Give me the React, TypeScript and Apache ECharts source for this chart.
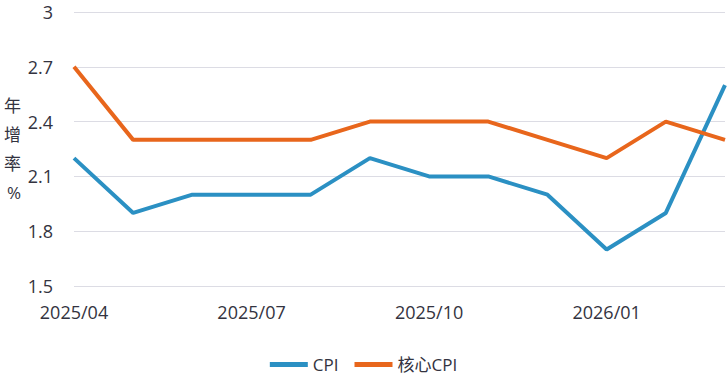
import React, { useEffect, useRef } from "react";
import * as echarts from "echarts";

const categories = ["2025/04","2025/05","2025/06","2025/07","2025/08","2025/09","2025/10","2025/11","2025/12","2026/01","2026/02","2026/03"];
const cpi = [2.2, 1.9, 2.0, 2.0, 2.0, 2.2, 2.1, 2.1, 2.0, 1.7, 1.9, 2.6];
const coreCpi = [2.7, 2.3, 2.3, 2.3, 2.3, 2.4, 2.4, 2.4, 2.3, 2.2, 2.4, 2.3];
const seriesNames = ["CPI", "核心CPI"];
const yName = "年\n增\n率\n%";

const FONT = "'Open Sans', 'Noto Sans CJK TC', sans-serif";
const TXT = "#333340";

export default function App() {
  const ref = useRef<HTMLDivElement>(null);
  useEffect(() => {
    if (!ref.current) return;
    const chart = echarts.init(ref.current, null, { renderer: "svg" });
    chart.setOption({
      animation: false,
      textStyle: { fontFamily: FONT },
      grid: { left: 74, right: 2, top: 12, bottom: 89, outerBoundsMode: "none", containLabel: false },
      legend: {
        top: 351,
        left: "center",
        itemWidth: 38,
        itemHeight: 5,
        itemGap: 16,
        icon: "rect",
        textStyle: { fontSize: 17, color: TXT, fontFamily: FONT },
        data: seriesNames,
      },
      xAxis: {
        type: "category",
        data: categories,
        boundaryGap: false,
        axisLine: { show: false },
        axisTick: { show: false },
        axisLabel: { interval: 2, fontSize: 18, color: TXT, margin: 17, fontFamily: FONT },
      },
      yAxis: {
        type: "value",
        min: 1.5,
        max: 3,
        interval: 0.3,
        name: yName,
        nameLocation: "middle",
        nameRotate: 0,
        nameGap: 53,
        nameMoveOverlap: false,
        nameTextStyle: { fontSize: 17, color: TXT, lineHeight: 29, fontFamily: FONT },
        axisLine: { show: false },
        axisTick: { show: false },
        splitLine: { lineStyle: { color: "#dcdce4", width: 1 } },
        axisLabel: {
          fontSize: 18,
          color: TXT,
          margin: 21,
          align: "right",
          fontFamily: FONT,
          formatter: (v: number) => String(Math.round(v * 10) / 10),
        },
      },
      series: [
        {
          name: seriesNames[0],
          type: "line",
          data: cpi,
          showSymbol: false,
          symbol: "none",
          lineStyle: { width: 4, color: "#2b90c3" },
          itemStyle: { color: "#2b90c3" },
        },
        {
          name: seriesNames[1],
          type: "line",
          data: coreCpi,
          showSymbol: false,
          symbol: "none",
          lineStyle: { width: 4, color: "#e8661c" },
          itemStyle: { color: "#e8661c" },
        },
      ],
    });
    return () => chart.dispose();
  }, []);
  return <div ref={ref} style={{ width: 727, height: 375, position: "absolute", left: 0, top: 0 }} />;
}
